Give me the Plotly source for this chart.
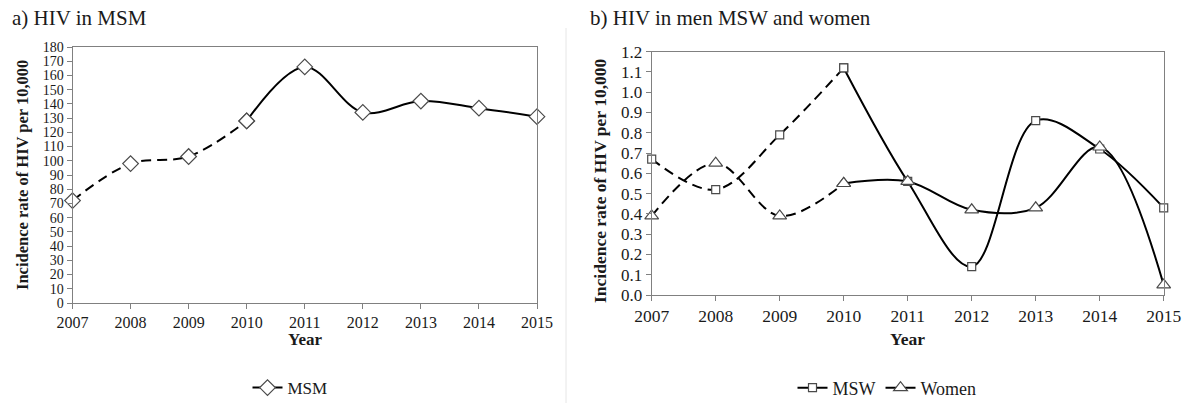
import plotly.graph_objects as go

years = [2007, 2008, 2009, 2010, 2011, 2012, 2013, 2014, 2015]
msm = [72, 98, 103, 128, 166, 134, 142, 137, 131]
msw = [0.67, 0.52, 0.79, 1.12, 0.56, 0.14, 0.86, 0.72, 0.43]
women = [0.39, 0.65, 0.39, 0.55, 0.56, 0.42, 0.43, 0.73, 0.05]
split_idx = 3  # dashed up to 2010, solid afterwards

FONT = "Liberation Serif"
W, H = 1187, 403
LINE_GRAY = "#808080"
MK_EDGE = "#4a4a4a"

fig = go.Figure()


def add_series(vals, name, symbol, size, xa, ya, legend):
    dashed_x = years[: split_idx + 1]
    dashed_y = vals[: split_idx + 1]
    solid_x = years[split_idx:]
    solid_y = vals[split_idx:]
    mk = dict(symbol=symbol, size=size, color="white", line=dict(color=MK_EDGE, width=1.2))
    fig.add_trace(go.Scatter(
        x=dashed_x, y=dashed_y, mode="lines+markers", name=name, showlegend=False,
        line=dict(color="black", width=2, dash="10px,6px", shape="spline", smoothing=1.0),
        marker=mk, xaxis=xa, yaxis=ya, legend=legend, cliponaxis=False))
    fig.add_trace(go.Scatter(
        x=solid_x, y=solid_y, mode="lines+markers", name=name, showlegend=True,
        line=dict(color="black", width=2, shape="spline", smoothing=1.0),
        marker=mk, xaxis=xa, yaxis=ya, legend=legend, cliponaxis=False))


add_series(msm, "MSM", "diamond", 12, "x", "y", "legend")
add_series(msw, "MSW", "square", 8, "x2", "y2", "legend2")
add_series(women, "Women", "triangle-up", 12, "x2", "y2", "legend2")


def px_x(p):
    return p / W


def px_y(p):
    return 1 - p / H


axis_common = dict(showline=True, linecolor=LINE_GRAY, linewidth=1, mirror=True,
                   showgrid=False, zeroline=False, ticks="outside", tickcolor=LINE_GRAY,
                   ticklen=5, automargin=False)

fig.update_layout(
    width=W, height=H,
    margin=dict(l=0, r=0, t=0, b=0, autoexpand=False),
    paper_bgcolor="white", plot_bgcolor="white",
    font=dict(family=FONT, color="#1a1a1a"),
    xaxis=dict(domain=[px_x(72.5), px_x(537)], range=[2007, 2015], tickvals=years,
               tickfont=dict(size=16, family=FONT), anchor="y", **axis_common),
    yaxis=dict(domain=[px_y(303), px_y(47)], range=[0, 180], dtick=10, tick0=0,
               tickfont=dict(size=14, family=FONT), anchor="x", **axis_common),
    xaxis2=dict(domain=[px_x(651.7), px_x(1163.7)], range=[2007, 2015], tickvals=years,
                tickfont=dict(size=17.5, family=FONT), anchor="y2", **axis_common),
    yaxis2=dict(domain=[px_y(295), px_y(51.7)], range=[0, 1.2], dtick=0.1, tick0=0,
                tickformat=".1f", tickfont=dict(size=17, family=FONT), anchor="x2",
                **axis_common),
    legend=dict(orientation="h", x=px_x(290), xanchor="center", y=px_y(388),
                yanchor="middle", font=dict(size=17, family=FONT), bgcolor="rgba(0,0,0,0)"),
    legend2=dict(orientation="h", x=px_x(887), xanchor="center", y=px_y(388),
                 yanchor="middle", font=dict(size=18, family=FONT), bgcolor="rgba(0,0,0,0)"),
    shapes=[dict(type="line", xref="paper", yref="paper", x0=px_x(566), x1=px_x(566),
                 y0=0, y1=px_y(28), line=dict(color="#e6e6e6", width=1))],
)

ann = [
    dict(text="a) HIV in MSM", x=px_x(10), y=px_y(4), xanchor="left", yanchor="top",
         font=dict(size=21)),
    dict(text="b) HIV in men MSW and women", x=px_x(588), y=px_y(4), xanchor="left",
         yanchor="top", font=dict(size=21)),
    dict(text="<b>Incidence rate of HIV per 10,000</b>", x=px_x(22), y=px_y(175),
         textangle=-90, xanchor="center", yanchor="middle", font=dict(size=16.5)),
    dict(text="<b>Incidence rate of HIV per 10,000</b>", x=px_x(600), y=px_y(180),
         textangle=-90, xanchor="center", yanchor="middle", font=dict(size=17.5)),
    dict(text="<b>Year</b>", x=px_x(305), y=px_y(339), xanchor="center", yanchor="middle",
         font=dict(size=17)),
    dict(text="<b>Year</b>", x=px_x(907), y=px_y(339), xanchor="center", yanchor="middle",
         font=dict(size=17.5)),
]
for a in ann:
    a.update(xref="paper", yref="paper", showarrow=False)
    a["font"]["family"] = FONT
    a["font"]["color"] = "#1a1a1a"
fig.update_layout(annotations=ann)

fig.write_html(
    "out.html",
    config={"displayModeBar": False},
    post_script="document.body.style.margin='0';document.body.style.overflow='hidden';",
)
